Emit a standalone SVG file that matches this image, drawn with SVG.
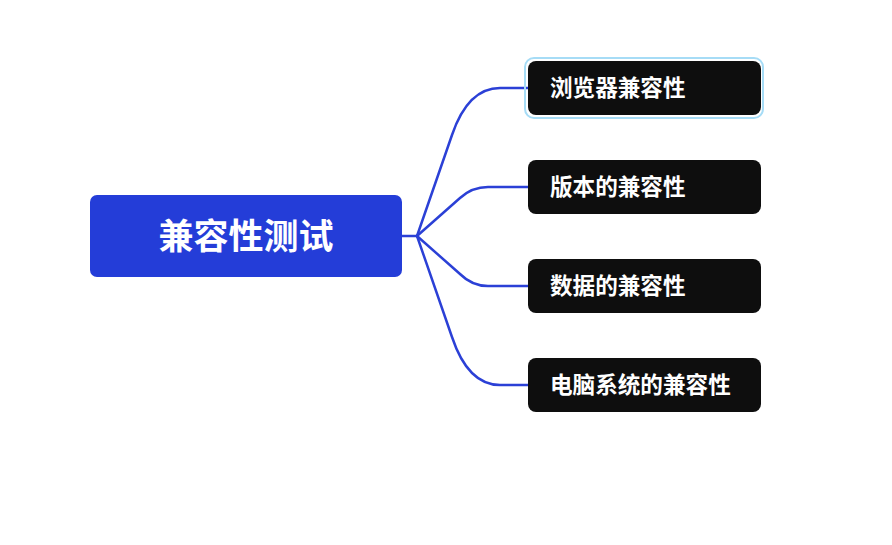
<svg xmlns="http://www.w3.org/2000/svg" width="892" height="545" viewBox="0 0 892 545">
<style>
.child{fill:#0e0e0e}
.ct{fill:#ffffff;font-family:"Noto Sans CJK SC","Noto Sans",sans-serif;font-weight:700;font-size:22.6px}
.conn{fill:none;stroke:#2b40d6;stroke-width:2.5;stroke-linecap:round}
</style>
<rect width="892" height="545" fill="#ffffff"/>
<g id="connectors">
<path class="conn" d="M402,236 L417,236"/>
<path class="conn" d="M417,236 L452,135 Q468,88 500,88 L528,88"/>
<path class="conn" d="M417,236 L460,198 Q472,187 488,187 L528,187"/>
<path class="conn" d="M417,236 L460,274 Q472,286 488,286 L528,286"/>
<path class="conn" d="M417,236 L452,337 Q468,385 500,385 L528,385"/>
</g>
<g id="root">
<rect x="90" y="195" width="312" height="82" rx="7" fill="#243dd8"/>
<text x="246" y="249" text-anchor="middle" fill="#ffffff" font-family="'Noto Sans CJK SC','Noto Sans',sans-serif" font-weight="700" font-size="35">兼容性测试</text>
</g>
<g id="n1">
<rect x="525" y="58" width="238" height="60" rx="9" fill="none" stroke="#a6dcf6" stroke-width="2"/>
<rect class="child" x="528" y="61" width="233" height="54" rx="8"/>
<text class="ct" x="550" y="96">浏览器兼容性</text>
</g>
<g id="n2">
<rect class="child" x="528" y="160" width="233" height="54" rx="8"/>
<text class="ct" x="550" y="195">版本的兼容性</text>
</g>
<g id="n3">
<rect class="child" x="528" y="259" width="233" height="54" rx="8"/>
<text class="ct" x="550" y="294">数据的兼容性</text>
</g>
<g id="n4">
<rect class="child" x="528" y="358" width="233" height="54" rx="8"/>
<text class="ct" x="550" y="393">电脑系统的兼容性</text>
</g>
</svg>
